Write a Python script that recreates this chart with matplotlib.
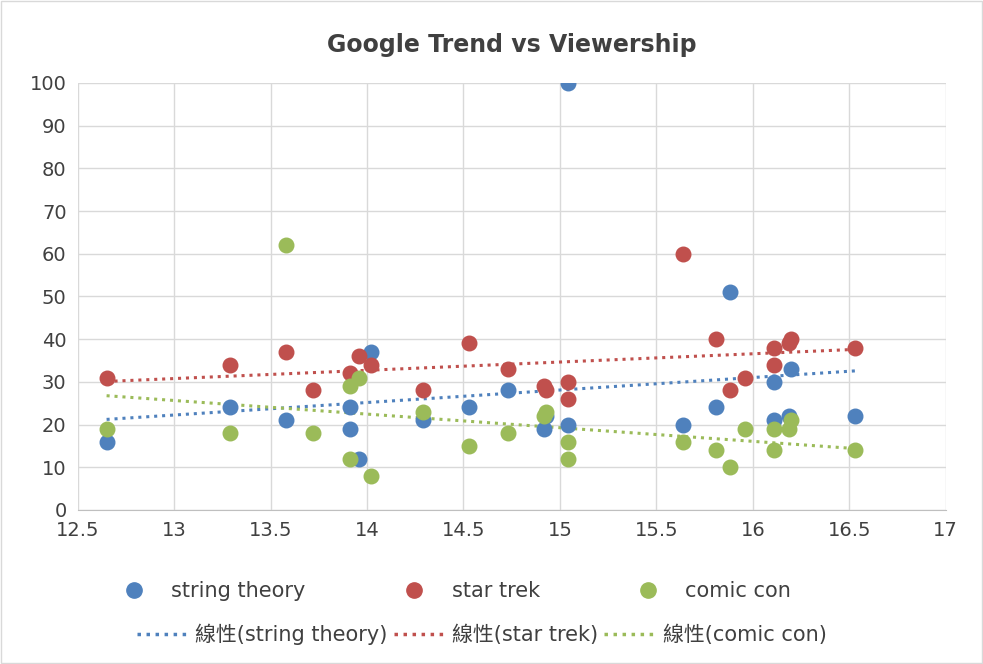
import numpy as np
import matplotlib.pyplot as plt
from matplotlib.lines import Line2D

plt.rcParams['font.family'] = ['DejaVu Sans', 'Noto Sans CJK TC']

x_vals = [12.65, 13.29, 13.58, 13.72, 13.91, 13.91, 13.96, 14.02, 14.29, 14.53, 14.73, 14.92,
          14.93, 15.04, 15.04, 15.64, 15.81, 15.88, 15.96, 16.11, 16.11, 16.19, 16.20, 16.53]
string_theory = [16, 24, 21, None, 24, 19, 12, 37, 21, 24, 28, 19,
                 22, 100, 20, 20, 24, 51, None, 30, 21, 22, 33, 22]
star_trek = [31, 34, 37, 28, 32, None, 36, 34, 28, 39, 33, 29,
             28, 30, 26, 60, 40, 28, 31, 34, 38, 39, 40, 38]
comic_con = [19, 18, 62, 18, 12, 29, 31, 8, 23, 15, 18, 22,
             23, 16, 12, 16, 14, 10, 19, 19, 14, 19, 21, 14]

series = [("string theory", string_theory, "#4F81BD"),
          ("star trek", star_trek, "#C0504D"),
          ("comic con", comic_con, "#9BBB59")]

fig = plt.figure(figsize=(9.83, 6.64), dpi=100)
ax = fig.add_axes([0.079, 0.232, 0.883, 0.643])
fig.patches.append(plt.Rectangle((0.001, 0.001), 0.998, 0.998, transform=fig.transFigure,
                                 fill=False, edgecolor="#d9d9d9", lw=1))

handles_pts, handles_lines = [], []
for name, vals, color in series:
    xs = np.array([x for x, v in zip(x_vals, vals) if v is not None])
    ys = np.array([v for v in vals if v is not None])
    ax.scatter(xs, ys, s=110, color=color, zorder=3)
    k, b = np.polyfit(xs, ys, 1)
    xl = np.array([xs.min(), xs.max()])
    ax.plot(xl, k * xl + b, color=color, lw=2.2, ls=(0, (1, 1.6)), zorder=2)
    handles_pts.append(Line2D([], [], marker="o", ls="", color=color, markersize=11, label=name))
    handles_lines.append(Line2D([], [], color=color, lw=2.5, ls=(0, (1, 1.6)), label=f"線性({name})"))

ax.set_xlim(12.5, 17)
ax.set_ylim(0, 100)
ax.set_xticks(np.arange(12.5, 17.01, 0.5))
ax.set_xticklabels(["12.5", "13", "13.5", "14", "14.5", "15", "15.5", "16", "16.5", "17"])
ax.set_yticks(range(0, 101, 10))
ax.grid(True, color="#d9d9d9", lw=1)
ax.set_axisbelow(True)
for s in ["top", "right", "left"]:
    ax.spines[s].set_visible(False)
ax.spines["bottom"].set_color("#bfbfbf")
ax.tick_params(length=0, labelsize=14, colors="#404040", pad=8)
ax.set_title("Google Trend vs Viewership", fontsize=17, fontweight="bold", color="#404040", pad=22)

fig.legend(handles=handles_pts, loc="center", bbox_to_anchor=(0.46, 0.11), ncol=3,
           frameon=False, fontsize=15, columnspacing=4.2, handletextpad=0.8,
           labelcolor="#404040")
fig.legend(handles=handles_lines, loc="center", bbox_to_anchor=(0.49, 0.045), ncol=3,
           frameon=False, fontsize=15, columnspacing=0.3, handlelength=2.5, handletextpad=0.3,
           labelcolor="#404040")

fig.savefig("out.png", dpi=100)
